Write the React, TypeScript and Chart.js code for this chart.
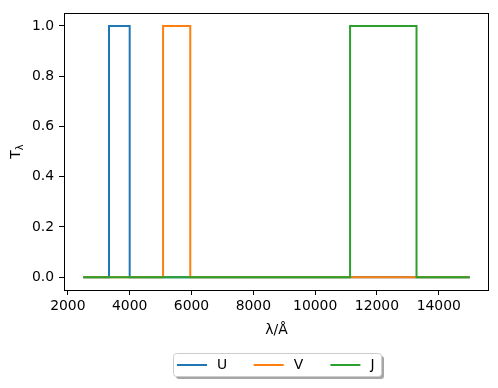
import React, { useEffect, useRef } from "react";
import { Chart, registerables } from "chart.js";

Chart.register(...registerables);

const seriesNames = ["U", "V", "J"];
const seriesColors = ["#1f77b4", "#ff7f0e", "#2ca02c"];

const uWave = [2500, 3330, 3330, 4000, 4000, 15000];
const uTrans = [0, 0, 1, 1, 0, 0];
const vWave = [2500, 5080, 5080, 5960, 5960, 15000];
const vTrans = [0, 0, 1, 1, 0, 0];
const jWave = [2500, 11130, 11130, 13280, 13280, 15000];
const jTrans = [0, 0, 1, 1, 0, 0];

const xTicks = [2000, 4000, 6000, 8000, 10000, 12000, 14000];
const yTicks = [0, 0.2, 0.4, 0.6, 0.8, 1.0];

const xTitle = "λ/Å";
const yTitleMain = "T";
const yTitleSub = "λ";

const FONT = "DejaVu Sans";
const FS = 13.9;

const toPts = (xs: number[], ys: number[]) => xs.map((x, i) => ({ x, y: ys[i] }));

const decorPlugin = {
  id: "decor",
  afterDraw(chart: any) {
    const ctx = chart.ctx as CanvasRenderingContext2D;
    const { left, top, right, bottom } = chart.chartArea;
    ctx.save();
    // frame
    ctx.strokeStyle = "#000";
    ctx.lineWidth = 1;
    ctx.strokeRect(Math.round(left) + 0.5, Math.round(top) + 0.5, Math.round(right - left) - 1, Math.round(bottom - top));

    // x title
    ctx.fillStyle = "#000";
    ctx.font = `${FS}px "${FONT}"`;
    ctx.textAlign = "center";
    ctx.textBaseline = "alphabetic";
    ctx.fillText(xTitle, (left + right) / 2, 334);

    // y title rotated with subscript
    ctx.save();
    ctx.translate(20, (top + bottom) / 2);
    ctx.rotate(-Math.PI / 2);
    ctx.font = `${FS}px "${FONT}"`;
    const wT = ctx.measureText(yTitleMain).width;
    ctx.font = `${FS * 0.7}px "${FONT}"`;
    const wS = ctx.measureText(yTitleSub).width;
    const total = wT + wS;
    ctx.textAlign = "left";
    ctx.font = `${FS}px "${FONT}"`;
    ctx.fillText(yTitleMain, -total / 2, 0);
    ctx.font = `${FS * 0.7}px "${FONT}"`;
    ctx.fillText(yTitleSub, -total / 2 + wT, 2.5);
    ctx.restore();

    // legend
    const bx = 173.5, by = 353.5, bw = 208, bh = 23, r = 3;
    const rr = (x: number, y: number, w: number, h: number) => {
      ctx.beginPath();
      ctx.moveTo(x + r, y);
      ctx.lineTo(x + w - r, y);
      ctx.quadraticCurveTo(x + w, y, x + w, y + r);
      ctx.lineTo(x + w, y + h - r);
      ctx.quadraticCurveTo(x + w, y + h, x + w - r, y + h);
      ctx.lineTo(x + r, y + h);
      ctx.quadraticCurveTo(x, y + h, x, y + h - r);
      ctx.lineTo(x, y + r);
      ctx.quadraticCurveTo(x, y, x + r, y);
      ctx.closePath();
    };
    rr(bx + 2.5, by + 2.5, bw, bh);
    ctx.fillStyle = "rgba(77,77,77,0.5)";
    ctx.fill();
    rr(bx, by, bw, bh);
    ctx.fillStyle = "#fff";
    ctx.fill();
    ctx.strokeStyle = "#cccccc";
    ctx.lineWidth = 1;
    ctx.stroke();

    const ly = 365;
    seriesNames.forEach((name, i) => {
      const x0 = 177 + i * 76.7;
      ctx.strokeStyle = seriesColors[i];
      ctx.lineWidth = 2;
      ctx.beginPath();
      ctx.moveTo(x0, ly);
      ctx.lineTo(x0 + 30, ly);
      ctx.stroke();
      ctx.fillStyle = "#000";
      ctx.font = `${FS}px "${FONT}"`;
      ctx.textAlign = "left";
      ctx.textBaseline = "middle";
      ctx.fillText(name, x0 + 40, ly);
    });
    ctx.restore();
  },
};

export default function App() {
  const ref = useRef<HTMLCanvasElement | null>(null);
  useEffect(() => {
    if (!ref.current) return;
    const ds = [toPts(uWave, uTrans), toPts(vWave, vTrans), toPts(jWave, jTrans)];
    const chart = new Chart(ref.current, {
      type: "line",
      data: {
        datasets: ds.map((d, i) => ({
          label: seriesNames[i],
          data: d,
          order: ds.length - i,
          borderColor: seriesColors[i],
          backgroundColor: seriesColors[i],
          borderWidth: 2,
          pointRadius: 0,
          fill: false,
          tension: 0,
        })),
      },
      options: {
        animation: false,
        responsive: false,
        devicePixelRatio: 1,
        layout: { padding: { left: 0, right: 9, top: 10, bottom: 0 } },
        plugins: { legend: { display: false }, tooltip: { enabled: false } },
        scales: {
          x: {
            type: "linear",
            min: 1875,
            max: 15625,
            afterFit: (s: any) => { s.height = 98; },
            afterBuildTicks: (s: any) => { s.ticks = xTicks.map((v) => ({ value: v })); },
            grid: { drawOnChartArea: false, drawTicks: true, tickLength: 5, tickColor: "#000", color: "#000" },
            border: { display: false },
            ticks: {
              color: "#000",
              font: { family: FONT, size: FS },
              padding: 3,
              maxRotation: 0,
              autoSkip: false,
              callback: (v: any) => String(v),
            },
          },
          y: {
            type: "linear",
            min: -0.0511,
            max: 1.05,
            afterFit: (s: any) => { s.width = 64; },
            afterBuildTicks: (s: any) => { s.ticks = yTicks.map((v) => ({ value: v })); },
            grid: { drawOnChartArea: false, drawTicks: true, tickLength: 5, tickColor: "#000", color: "#000" },
            border: { display: false },
            ticks: {
              color: "#000",
              font: { family: FONT, size: FS },
              padding: 5,
              autoSkip: false,
              callback: (v: any) => Number(v).toFixed(1),
            },
          },
        },
      },
      plugins: [decorPlugin],
    });
    return () => chart.destroy();
  }, []);
  return (
    <div style={{ position: "absolute", left: 0, top: 0, width: 498, height: 388, background: "#fff" }}>
      <canvas ref={ref} width={498} height={388} style={{ display: "block", width: 498, height: 388 }} />
    </div>
  );
}
